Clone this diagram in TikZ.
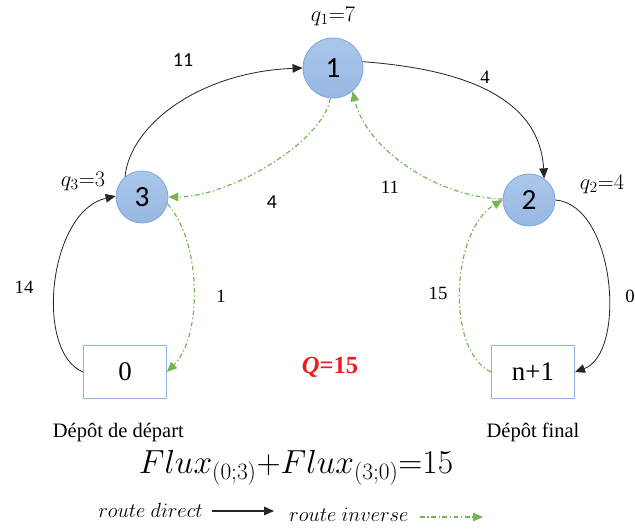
\documentclass[tikz,border=0pt]{standalone}
\usepackage{fix-cm}
\usepackage{fontspec}
\setmainfont{Liberation Serif}
\newfontfamily\calibfont{Carlito}
\usetikzlibrary{arrows.meta, positioning}
\definecolor{clienttop}{HTML}{ABC7EB}
\definecolor{clientbot}{HTML}{97B7E2}
\definecolor{clientedge}{HTML}{7EA6D8}
\definecolor{depotedge}{HTML}{8DB4E2}
\definecolor{invgreen}{HTML}{76B552}
\definecolor{qred}{HTML}{EE1C1C}

\begin{document}
\begin{tikzpicture}[
  x=0.03cm, y=-0.03cm,
  client/.style={circle, draw=clientedge, line width=0.7pt, top color=clienttop,
                 bottom color=clientbot, minimum size=1.56cm, inner sep=0pt,
                 font=\calibfont\fontsize{25}{25}\selectfont},
  depot/.style={draw=depotedge, line width=0.8pt, minimum width=2.49cm,
                minimum height=1.59cm, font=\fontsize{23}{23}\selectfont},
  lbl/.style={inner sep=0pt, font=\fontsize{16}{16}\selectfont},
  clbl/.style={inner sep=0pt, font=\calibfont\fontsize{17}{17}\selectfont},
  qlbl/.style={inner sep=0pt, font=\fontsize{19}{19}\selectfont},
  leg/.style={inner sep=0pt, font=\fontsize{17.5}{17.5}\selectfont},
  direct/.style={-{Triangle[length=3mm,width=2.6mm]}, line width=0.7pt, black!85},
  inverse/.style={-{Triangle[length=3mm,width=2.6mm]}, line width=1pt, invgreen,
                  dash pattern=on 4pt off 2.2pt on 1.2pt off 2.2pt}
]
  \useasboundingbox (0,0) rectangle (635,530);

  \node[client, minimum size=1.8cm] (n1) at (333,68) {1};
  \node[client] (n3) at (142,197) {3};
  \node[client] (n2) at (529,200) {2};
  \node[depot] (dep) at (125,372) {0};
  \node[depot] (fin) at (533,372) {n+1};
  \node[font=\fontsize{17.5}{17.5}\selectfont, below=0.6cm of dep, xshift=-0.2cm] (deplbl) {Dépôt de départ};
  \node[font=\fontsize{17.5}{17.5}\selectfont, below=0.6cm of fin] (finlbl) {Dépôt final};

  \node[qlbl] (q1) at (333,16) {$q_{1}{=}7$};
  \node[qlbl] (q3) at (83,181) {$q_{3}{=}3$};
  \node[qlbl] (q2) at (602,184) {$q_{2}{=}4$};

  \draw[direct] (dep.west) .. controls +(-49,-20) and +(-67,15) .. (n3.178);
  \draw[direct] (n3.130) .. controls +(5,-52) and +(-103,4) .. (n1.west);
  \draw[direct] (n1.12) .. controls +(80,6) and +(-5,-90) .. (n2.55);
  \draw[direct] (n2.east) .. controls +(60,5) and +(52,-19) .. (fin.east);

  \draw[inverse] (fin.west) .. controls +(-46,-22) and +(-51,30) .. (n2.west);
  \draw[inverse] (n2.178) .. controls +(-66,-2) and +(14,58) .. (n1.-50);
  \draw[inverse] (n1.-95) .. controls +(-8,45) and +(60,0) .. (n3.east);
  \draw[inverse] (n3.-15) .. controls +(35,40) and +(35,-35) .. (dep.east);

  \node[clbl] (w31) at (183,60) {11};
  \node[lbl] (w12) at (485,77) {4};
  \node[lbl] (w03) at (24,287) {14};
  \node[lbl] (w2f) at (630,296) {0};
  \node[clbl] (w13) at (272,202) {4};
  \node[lbl] (w21) at (390,187) {11};
  \node[lbl] (w30) at (221,296) {1};
  \node[lbl] (wf2) at (438,293) {15};

  \node[text=qred, font=\fontsize{21}{21}\selectfont\bfseries] (qtot) at (330,367) {\textit{Q}=15};
  \node[font=\fontsize{28.5}{28.5}\selectfont] (flux) at (296,468) {$Flux_{(0;3)}{+}Flux_{(3;0)}{=}15$};

  \node[leg, anchor=east] (ldir) at (203,510) {$route\ direct$};
  \coordinate (la) at (212,511);
  \coordinate (lb) at (274,511);
  \draw[direct, line width=1pt] (la) -- (lb);
  \node[leg, anchor=west] (linv) at (289,515) {$route\ inverse$};
  \coordinate (lc) at (420,517);
  \coordinate (ld) at (483,517);
  \draw[inverse] (lc) -- (ld);
\end{tikzpicture}
\end{document}
